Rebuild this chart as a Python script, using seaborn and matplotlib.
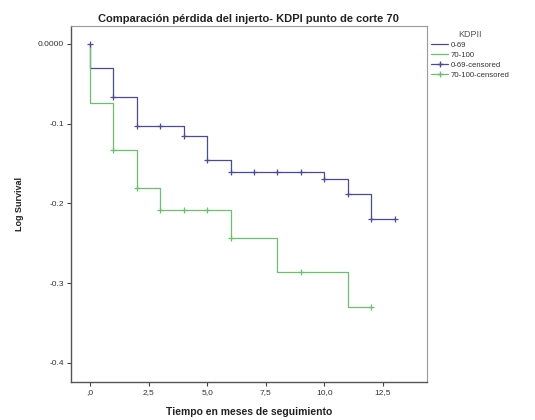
import matplotlib
matplotlib.use("Agg")
import matplotlib.pyplot as plt
import seaborn as sns
import pandas as pd
from matplotlib.lines import Line2D

# ---------------- Data ----------------
# step curves (time, log survival)
blue_t = [0, 0, 1, 2, 4, 5, 6, 10, 11, 12, 13]
blue_s = [0.0, -0.030, -0.066, -0.103, -0.116, -0.145, -0.160, -0.169, -0.188, -0.219, -0.219]
green_t = [0, 0, 1, 2, 3, 6, 8, 11, 12]
green_s = [0.0, -0.074, -0.133, -0.181, -0.208, -0.244, -0.286, -0.330, -0.330]

# censored marks
blue_cens_t = [0, 1, 2, 3, 4, 5, 6, 7, 8, 9, 10, 11, 12, 13]
blue_cens_s = [0.0, -0.066, -0.103, -0.103, -0.116, -0.145, -0.160, -0.160, -0.160, -0.160,
               -0.169, -0.188, -0.219, -0.219]
green_cens_t = [1, 2, 3, 4, 5, 6, 9, 12]
green_cens_s = [-0.133, -0.181, -0.208, -0.208, -0.208, -0.244, -0.286, -0.330]

groups = ["0-69", "70-100"]
x_ticks = [0, 2.5, 5, 7.5, 10, 12.5]
x_labels = [",0", "2,5", "5,0", "7,5", "10,0", "12,5"]
y_ticks = [0.0, -0.1, -0.2, -0.3, -0.4]
y_labels = ["0.0000", "-0.1", "-0.2", "-0.3", "-0.4"]

BLUE = "#4a4a96"
GREEN = "#6cbf6c"

sns.set_style("white")
plt.rcParams["font.family"] = ["Liberation Sans", "DejaVu Sans"]

fig = plt.figure(figsize=(5.35, 4.2), dpi=100)
ax = fig.add_axes([0.1327, 0.0905, 0.665, 0.8475])

sns.lineplot(x=blue_t, y=blue_s, estimator=None, sort=False, drawstyle="steps-post",
             color=BLUE, linewidth=0.9, ax=ax)
sns.lineplot(x=green_t, y=green_s, estimator=None, sort=False, drawstyle="steps-post",
             color=GREEN, linewidth=0.9, ax=ax)
sns.scatterplot(x=blue_cens_t, y=blue_cens_s, marker="+", s=18, color=BLUE,
                linewidth=0.9, ax=ax, zorder=3)
sns.scatterplot(x=green_cens_t, y=green_cens_s, marker="+", s=18, color=GREEN,
                linewidth=0.9, ax=ax, zorder=3)

ax.set_xlim(-0.81, 14.37)
ax.set_ylim(-0.424, 0.0225)
ax.set_xticks(x_ticks)
ax.set_xticklabels(x_labels, fontsize=6)
ax.set_yticks(y_ticks)
ax.set_yticklabels(y_labels, fontsize=6)
ax.tick_params(axis="both", length=3, width=0.8, color="#444444", labelcolor="#333333", pad=2)
ax.tick_params(bottom=True, left=True)

for side in ["top", "right"]:
    ax.spines[side].set_color("#9a9a9a")
    ax.spines[side].set_linewidth(0.8)
for side in ["left", "bottom"]:
    ax.spines[side].set_color("#555555")
    ax.spines[side].set_linewidth(1.0)

ax.set_title("Comparación pérdida del injerto- KDPI punto de corte 70",
             fontsize=8, fontweight="bold", color="#222222", pad=3)
ax.set_xlabel("Tiempo en meses de seguimiento", fontsize=7.5, fontweight="bold",
              color="#222222", labelpad=8)
ax.set_ylabel("Log Survival", fontsize=6.5, fontweight="bold", color="#222222", labelpad=10)

handles = [
    Line2D([], [], color=BLUE, linewidth=0.9),
    Line2D([], [], color=GREEN, linewidth=0.9),
    Line2D([], [], color=BLUE, linewidth=0.9, marker="+", markersize=5),
    Line2D([], [], color=GREEN, linewidth=0.9, marker="+", markersize=5),
]
labels = [groups[0], groups[1], groups[0] + "-censored", groups[1] + "-censored"]
leg = fig.legend(handles, labels, title="KDPII", loc="upper left",
                 bbox_to_anchor=(0.800, 0.935), frameon=False, fontsize=5.6,
                 title_fontsize=6.5, handlelength=2.2, handletextpad=0.3,
                 labelspacing=0.3, borderaxespad=0)
leg.get_title().set_color("#555555")
for t in leg.get_texts():
    t.set_color("#333333")

fig.savefig("out.png", dpi=100)
